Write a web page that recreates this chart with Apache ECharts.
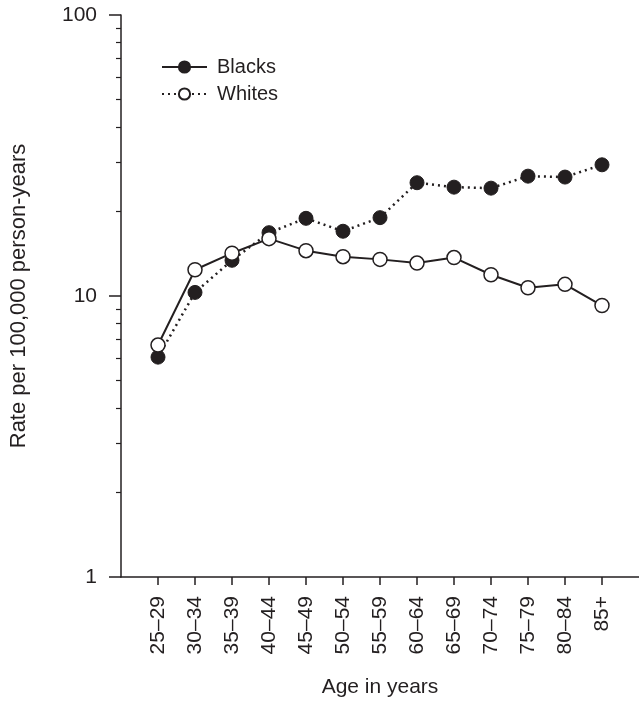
<!DOCTYPE html>
<html>
<head>
<meta charset="utf-8">
<script src="https://cdn.jsdelivr.net/npm/echarts@6/dist/echarts.min.js"></script>
<style>
html,body{margin:0;padding:0;background:#fff;}
#c{width:639px;height:703px;}
</style>
</head>
<body>
<div id="c"></div>
<script>
const categories = ['25\u201329','30\u201334','35\u201339','40\u201344','45\u201349','50\u201354','55\u201359','60\u201364','65\u201369','70\u201374','75\u201379','80\u201384','85+'];
const blacks = [6.06, 10.3, 13.4, 16.8, 18.9, 17.0, 19.0, 25.3, 24.4, 24.2, 26.7, 26.5, 29.3];
const whites = [6.69, 12.4, 14.2, 16.0, 14.5, 13.8, 13.5, 13.1, 13.7, 11.9, 10.7, 11.0, 9.25];
const majorTicks = [1, 10, 100];
const minorTicks = [2,3,4,5,6,7,8,9,20,30,40,50,60,70,80,90];

const ink = '#231f20';
const font = 'Liberation Sans, Arial, Helvetica, sans-serif';
// pad the category axis with a blank slot at each end
const axisCats = [''].concat(categories, ['']);
const pad = v => [null].concat(v, [null]);
const isReal = (i) => i > 0 && i <= categories.length;

const chart = echarts.init(document.getElementById('c'), null, {renderer:'canvas'});
chart.setOption({
  animation: false,
  backgroundColor: '#fff',
  textStyle: {fontFamily: font, color: ink},
  grid: {left: 110, right: -3, top: 15, bottom: 112, containLabel: false},
  legend: {
    orient: 'vertical', left: 156, top: 52,
    itemWidth: 45, itemHeight: 14, itemGap: 7,
    textStyle: {fontSize: 20, color: ink, fontFamily: font, padding: [0,0,0,5]},
    data: [
      {name: 'Blacks', lineStyle: {type: 'solid', width: 2, color: ink}},
      {name: 'Whites', lineStyle: {type: [2, 4], width: 2, color: ink}}
    ]
  },
  xAxis: {
    type: 'category', data: axisCats, boundaryGap: false,
    name: 'Age in years', nameLocation: 'middle', nameGap: 100,
    nameTextStyle: {fontSize: 21, color: ink, fontFamily: font},
    axisLine: {lineStyle: {color: ink, width: 1.5}},
    axisTick: {length: 8, lineStyle: {color: ink, width: 1.5}, interval: (i) => isReal(i)},
    axisLabel: {rotate: 90, fontSize: 21, color: ink, margin: 19, fontFamily: font, interval: (i) => isReal(i)},
    splitLine: {show: false}
  },
  yAxis: [
    {
      type: 'log', logBase: 10, min: 1, max: 100,
      name: 'Rate per 100,000 person-years', nameLocation: 'middle', nameGap: 91,
      nameTextStyle: {fontSize: 22, color: ink, fontFamily: font},
      axisLine: {show: true, lineStyle: {color: ink, width: 1.5}},
      axisTick: {show: true, length: 12, lineStyle: {color: ink, width: 1.5}, customValues: majorTicks},
      axisLabel: {fontSize: 21, color: ink, margin: 24, fontFamily: font, customValues: majorTicks},
      splitLine: {show: false}
    },
    {
      type: 'log', logBase: 10, min: 1, max: 100, position: 'left', offset: 0,
      axisLine: {show: false},
      axisTick: {show: true, length: 5, lineStyle: {color: ink, width: 1.2}, customValues: minorTicks},
      axisLabel: {show: false},
      splitLine: {show: false}
    }
  ],
  series: [
    {
      name: 'Blacks', type: 'line', data: pad(blacks), yAxisIndex: 0,
      symbol: 'circle', symbolSize: 14, showAllSymbol: true, connectNulls: false,
      itemStyle: {color: ink, borderColor: ink, borderWidth: 1},
      lineStyle: {color: ink, width: 2.5, type: [2, 4]},
      z: 2
    },
    {
      name: 'Whites', type: 'line', data: pad(whites), yAxisIndex: 0,
      symbol: 'circle', symbolSize: 14, showAllSymbol: true, connectNulls: false,
      itemStyle: {color: '#fff', borderColor: ink, borderWidth: 1.5},
      lineStyle: {color: ink, width: 2},
      z: 3
    }
  ]
});
</script>
</body>
</html>
